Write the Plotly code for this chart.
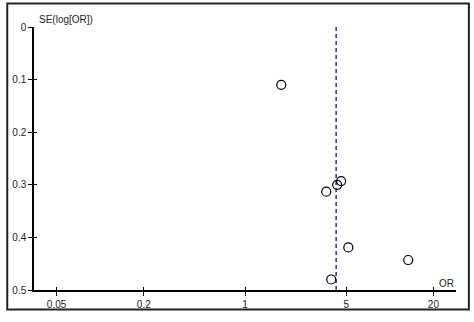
import plotly.graph_objects as go

# Study data
odds_ratios = [1.78, 4.61, 4.33, 3.64, 5.17, 13.4, 3.94]
se_log_or = [0.110, 0.293, 0.300, 0.313, 0.419, 0.443, 0.480]
pooled_or = 4.26
x_ticks = [0.05, 0.2, 1, 5, 20]
x_tick_labels = ["0.05", "0.2", "1", "5", "20"]
y_ticks = [0, 0.1, 0.2, 0.3, 0.4, 0.5]
y_tick_labels = ["0", "0.1", "0.2", "0.3", "0.4", "0.5"]

FONT = "Liberation Sans"
FS = 10
xr = [-1.457, 1.457]
yr = [0.5, 0]

fig = go.Figure()
fig.add_trace(go.Scatter(
    x=[pooled_or, pooled_or], y=[0, 0.5], mode="lines",
    line=dict(color="#2a2ab0", width=1.5, dash="4px,3px"),
    showlegend=False, hoverinfo="skip"))
fig.add_trace(go.Scatter(
    x=odds_ratios, y=se_log_or, mode="markers",
    marker=dict(symbol="circle-open", size=9, color="black", line=dict(width=1.2)),
    showlegend=False))
# invisible trace for the overlay axes (inner tick halves)
fig.add_trace(go.Scatter(x=[1], y=[0.25], xaxis="x2", yaxis="y2", mode="markers",
                         marker=dict(opacity=0), showlegend=False, hoverinfo="skip"))

common_tick = dict(tickcolor="black", tickwidth=1.2, ticklen=4)
fig.update_layout(
    width=474, height=322,
    margin=dict(l=30, r=18, t=27, b=25),
    paper_bgcolor="white", plot_bgcolor="white",
    font=dict(family=FONT, size=FS, color="#222"),
    xaxis=dict(type="log", range=xr, tickvals=x_ticks, ticktext=x_tick_labels,
               ticks="outside", showline=True, linecolor="black", linewidth=1.5,
               showgrid=False, zeroline=False, ticklabelstandoff=0, **common_tick),
    yaxis=dict(range=yr, tickvals=y_ticks, ticktext=y_tick_labels,
               ticks="outside", showline=True, linecolor="black", linewidth=1.5,
               showgrid=False, zeroline=False, **common_tick),
    xaxis2=dict(type="log", range=xr, tickvals=x_ticks, overlaying="x", side="bottom",
                ticks="inside", showticklabels=False, showline=False, showgrid=False,
                zeroline=False, anchor="y2", tickcolor="black", tickwidth=1.2, ticklen=3),
    yaxis2=dict(range=yr, tickvals=y_ticks, overlaying="y", side="left",
                ticks="inside", showticklabels=False, showline=False, showgrid=False,
                zeroline=False, anchor="x2", tickcolor="black", tickwidth=1.2, ticklen=3),
    annotations=[
        dict(text="SE(log[OR])", xref="paper", yref="paper", x=0, y=1,
             xanchor="left", yanchor="bottom", xshift=3, yshift=0, showarrow=False,
             font=dict(family=FONT, size=FS, color="#222")),
        dict(text="OR", xref="paper", yref="paper", x=1, y=0,
             xanchor="right", yanchor="bottom", yshift=-1, showarrow=False,
             font=dict(family=FONT, size=FS, color="#222")),
    ],
    shapes=[dict(type="rect", xref="paper", yref="paper",
                 x0=-27 / 426, x1=1 + 13 / 426, y0=-20 / 270, y1=1 + 24 / 270,
                 line=dict(color="#222", width=2), fillcolor="rgba(0,0,0,0)")],
)

fig.write_html("out.html")
